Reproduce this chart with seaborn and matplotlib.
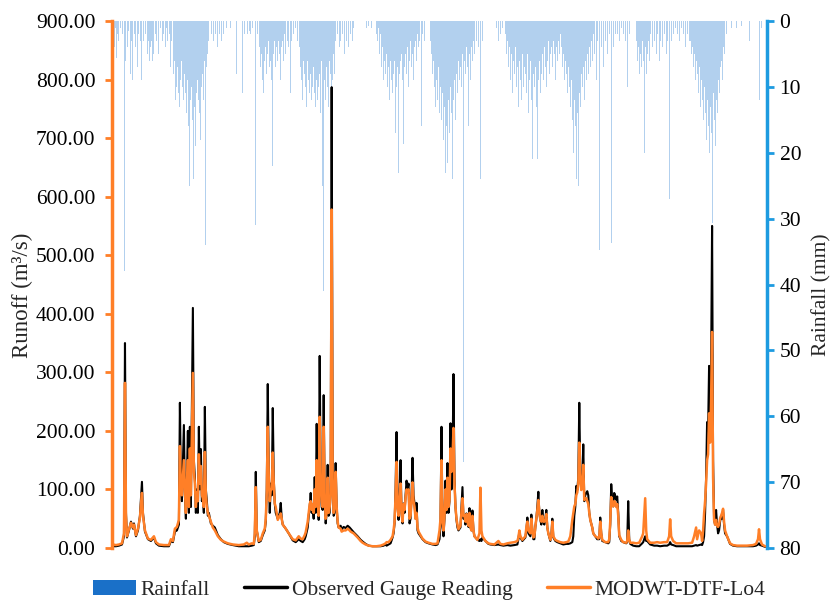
import numpy as np
import pandas as pd
import matplotlib
matplotlib.use("Agg")
import matplotlib.pyplot as plt
import seaborn as sns
from matplotlib.patches import Patch
from matplotlib.lines import Line2D

# ---------------- data (time-step index) ----------------
runoff_step = [0,3,6,9,11,12,13,14,16,18,20,21,23,25,27,28,29,30,32,35,38,41,43,46,51,56,58,60,62,64,66,67,68,69,71,72,73,74,75,76,77,78,80,81,82,83,84,85,86,87,88,89,90,91,92,93,94,95,96,98,100,102,105,108,111,115,120,126,131,134,136,139,141,142,143,144,146,148,150,152,153,154,155,156,157,158,159,160,161,162,163,165,167,168,169,170,173,176,180,183,186,188,190,192,193,195,196,197,198,199,200,201,202,203,204,205,206,207,208,209,210,211,212,213,214,215,216,217,218,219,220,221,222,223,224,225,226,228,229,231,233,235,237,238,241,245,248,250,253,256,260,264,268,271,273,274,276,278,280,281,282,283,284,285,286,287,288,289,290,291,292,293,294,295,296,297,298,299,300,301,302,303,304,305,306,308,310,313,316,320,323,325,327,328,329,330,331,332,333,334,335,336,337,338,339,340,341,342,343,344,345,346,348,350,351,352,353,354,355,356,357,358,359,360,361,362,365,367,368,369,370,373,376,378,382,386,388,391,395,398,402,405,406,407,408,410,413,414,415,416,418,419,420,421,422,423,424,425,426,427,428,429,430,431,432,433,434,435,436,438,439,440,441,443,445,448,451,454,456,458,460,461,462,463,464,465,466,467,468,469,470,471,472,473,474,475,476,477,478,480,481,483,485,486,487,488,489,490,493,496,497,498,499,500,501,502,503,504,505,506,507,509,511,514,515,516,517,518,521,524,527,530,531,533,534,535,538,542,545,548,552,555,557,558,559,561,564,568,572,576,580,582,584,585,587,589,590,591,592,593,594,595,596,597,598,599,600,601,602,603,604,605,606,607,608,609,610,611,612,613,615,618,621,625,630,635,641,644,646,647,648,650,653]

observed = [3,3,4,6,20,350,60,18,30,45,33,42,20,30,55,85,113,60,28,15,12,18,8,4,3,3,12,10,28,30,40,248,110,80,210,90,50,120,200,60,207,70,410,150,120,60,100,60,207,100,169,80,90,60,241,100,80,55,60,42,38,35,22,15,10,7,5,3,3,3,3,4,5,20,130,30,10,12,22,30,45,100,280,130,60,110,90,239,120,76,60,50,60,77,50,40,33,25,13,10,15,12,10,15,20,35,55,70,94,60,70,50,121,60,212,80,48,328,120,70,65,261,90,42,60,142,55,60,100,787,150,55,60,145,70,42,35,38,32,36,34,38,35,33,27,20,14,11,7,4,3,3,3,4,6,4,6,8,18,25,42,100,198,70,48,90,150,60,42,76,60,90,115,100,110,42,50,90,154,90,76,50,77,30,25,20,15,10,8,6,5,6,15,40,207,40,20,50,115,60,145,60,80,213,100,140,297,120,70,48,35,30,35,104,50,55,40,59,45,36,68,35,30,64,30,20,14,12,15,12,18,12,7,6,5,6,5,4,5,4,5,6,15,28,18,12,18,30,52,25,20,57,30,15,15,36,50,71,96,60,48,40,65,45,40,50,65,35,25,12,20,50,18,12,10,8,6,7,7,8,10,20,55,70,106,99,120,248,130,100,110,177,80,90,94,97,90,60,48,35,25,20,15,15,15,52,25,12,10,8,10,40,109,80,71,94,89,82,88,60,20,12,10,8,10,80,15,7,4,3,3,8,10,20,12,12,6,4,4,3,4,4,6,10,6,5,3,3,3,3,3,4,5,4,5,6,5,10,20,60,120,215,200,311,200,300,550,150,48,40,65,40,25,30,45,55,50,65,40,25,20,7,4,3,3,3,3,4,6,8,5,4,2]

simulated = [6,5,6,8,25,282,55,20,32,43,35,40,22,33,52,75,94,55,30,16,14,20,10,6,5,5,15,12,33,36,48,174,100,90,150,100,60,110,150,70,170,90,299,130,110,70,95,80,160,110,140,90,85,70,164,90,70,60,55,45,35,30,20,14,11,8,6,5,6,9,6,8,7,25,104,30,12,14,25,33,50,95,207,120,80,100,100,163,110,76,70,48,55,59,50,40,33,25,15,13,20,16,15,22,27,45,60,75,80,65,75,60,100,70,150,90,55,224,110,80,70,207,90,50,60,120,60,70,90,578,120,60,70,130,70,45,35,33,28,30,30,33,30,28,25,18,12,9,6,4,3,3,4,6,8,10,10,14,20,30,45,90,147,70,55,80,110,60,45,75,65,85,100,95,100,50,55,80,112,80,70,50,60,35,28,22,16,11,9,7,7,8,30,50,150,45,30,55,100,65,120,70,82,170,130,150,205,110,70,50,40,32,38,85,55,55,45,58,45,38,60,35,30,55,30,20,14,25,103,30,20,12,8,7,6,12,7,6,8,9,10,12,18,30,20,14,20,35,45,30,25,50,30,18,20,36,50,65,82,60,48,45,55,45,45,48,58,35,25,14,20,45,20,14,12,10,9,10,11,20,48,60,71,75,90,95,110,180,120,99,105,142,82,85,85,80,75,60,48,35,25,20,18,16,18,45,25,14,10,10,15,45,87,75,71,80,78,70,75,55,22,14,10,9,12,30,14,9,9,8,9,20,25,85,30,15,9,9,10,9,10,10,20,49,20,12,8,8,8,8,9,20,35,15,30,25,12,30,59,80,110,150,160,230,180,250,369,120,48,40,48,38,36,40,50,55,60,67,45,30,20,8,5,4,4,4,5,7,15,32,15,6,3]

rain_step = [1,2,3,4,5,6,8,10,12,13,15,16,18,19,20,22,23,25,26,28,29,31,33,35,36,37,38,39,40,41,43,44,46,48,50,51,53,54,55,57,58,59,
             61,62,63,64,65,66,67,68,69,70,71,72,73,74,75,76,77,78,79,80,81,82,83,84,85,86,87,88,89,90,91,92,93,94,95,96,
             99,101,103,105,107,109,111,114,118,124,130,132,135,137,138,140,143,145,147,148,149,150,151,152,153,154,155,156,157,158,159,160,161,162,163,164,165,166,167,168,169,170,171,172,173,175,176,178,179,181,183,185,187,
             188,189,190,191,192,193,194,195,196,197,198,199,200,201,202,203,204,205,206,207,208,209,210,211,212,213,214,215,216,217,218,219,220,221,222,223,
             225,227,228,230,232,234,236,238,240,241,254,256,259,264,
             265,266,267,268,269,270,271,272,273,274,275,276,277,278,279,280,281,282,283,284,285,286,287,288,289,290,291,292,293,294,295,296,297,298,299,300,301,302,303,304,305,306,307,309,310,312,
             318,319,320,321,322,323,324,325,326,327,328,329,330,331,332,333,334,335,336,337,338,339,340,341,342,343,344,345,346,347,348,349,350,351,352,353,354,355,356,357,358,359,360,361,362,364,366,368,370,
             384,386,388,390,
             393,394,395,396,397,398,399,400,401,402,403,404,405,406,407,408,409,410,411,412,413,414,415,416,417,418,419,420,421,422,423,424,425,426,427,428,429,430,431,432,433,434,435,436,437,438,439,440,441,442,443,444,445,446,447,448,
             449,450,451,452,453,454,455,456,457,458,459,460,461,462,463,464,465,466,467,468,469,470,471,472,473,474,475,476,477,478,479,480,481,482,484,485,487,489,491,493,495,497,499,501,503,
             505,507,509,511,513,515,517,
             524,525,526,527,528,529,530,531,532,533,534,535,536,537,538,540,542,544,545,547,548,550,552,554,555,557,559,561,563,
             565,567,569,571,573,575,577,
             578,579,580,581,582,583,584,585,586,587,588,589,590,591,592,593,594,595,596,597,598,599,600,601,602,603,604,605,606,607,608,609,610,611,612,614,
             619,624,629,637,647,649]

rainfall = [2,4,1,5.6,2,3,1,2,38,6,4,1.5,8,3,9,2,4,7,2,3,9,3,2,5,3,6,4,3,6,5,2,3,5,1,3,2,4,1,3,2,7,3,
            8,6,12,10,7,11,13,9,6,10,12,8,11,14,9,16,25,12,10,15,24,13,19,11,9,12,14,18,10,8,12,6,34,7,5,3,
            2,3,2,4,2,3,2,1,1,8,11,2,2,1.5,2,1,31,2,4,7,5,9,11,6,4,8,5,3,7,6,9,22,5,3,7,4,6,3,5,9,4,3,6,2,5,3,4,11,3,2,1,3,4,
            7,9,12,6,8,10,13,6,9,11,8,12,10,7,11,13,9,12,10,8,14,6,25,41,9,12,7,10,13,6,8,10,9,5,8,3,
            2,4,3,2,5,3,4,2,3,1,1,0.7,1,2,
            3,1,5,2,7,4,9,6,8,5,10,7,12,6,9,11,8,6,17,10,7,23,8,6,5,9,18.6,7,5,8,4,10,6,3,7,5,9,4,3,6,2,4,3,16,2,3,
            3,5,8,6,10,13,9,12,7,14,10,15,11,18,13,23,16,21.6,12,17,10,14,24,12,9,15,8,11,6,9,7,10,5,67,6,8,4,7,16,5,9,4,6,3,5,3,4,24,3,
            1,3,2,1,
            2,5,3,7,4,9,5,11,6,8,4,10,7,13,6,9,12,5,10,7,8,11,5,14,9,6,12,21,8,10,7,13,21,9,6,11,8,5,9,4,7,10,6,3,8,5,4,7,3,5,9,4,6,3,5,2,
            4,7,5,9,6,8,11,7,10,13,9,15,20,12,16,24,14,25,11,13,8,10,7,12,6,9,5,8,4,7,3,6,2,5,9,3,34.7,4,7,3,5,2,33.7,4,2,
            2,3,1,2,3,10,2,
            3,6,4,8,5,7,3,6,20,4,8,5,3,6,2,4,3,5,2,6,3,4,2,5,3,27,3,2,1,
            2,3,1,2,4,2,3,
            3,5,4,7,5,9,6,8,11,7,13,9,12,15,10,14,18,12,16,20,13,17,30.7,11,15,19,12,14,9,11,7,6,9,4,5,2,
            1,1,0.7,3,12,1]

runoff_ticks = [0, 100, 200, 300, 400, 500, 600, 700, 800, 900]
rain_ticks = [0, 10, 20, 30, 40, 50, 60, 70, 80]
legend_labels = ["Rainfall", "Observed Gauge Reading", "MODWT-DTF-Lo4"]

# ---------------- styling ----------------
sns.set_theme(style="white")
plt.rcParams["font.family"] = ["Liberation Serif", "DejaVu Serif"]

ORANGE = "#ff7f27"
BLUE_AX = "#1d9be0"
BAR_BLUE = "#92bde8"
LEG_BLUE = "#1a70c8"
FS = 15.5

fig = plt.figure(figsize=(8.30, 6.03), dpi=100)
ax = fig.add_axes([112/830, 1-548/603, 655/830, 527/603])
ax2 = ax.twinx()

run_df = pd.DataFrame({"step": runoff_step, "observed": observed, "simulated": simulated})
rain_df = pd.DataFrame({"step": rain_step, "rain": rainfall})

# rainfall bars (secondary axis, inverted)
sns.barplot(data=rain_df, x="step", y="rain", native_scale=True, orient="x",
            errorbar=None, color=BAR_BLUE, width=1.0, saturation=1, alpha=0.7,
            linewidth=0, ax=ax2)
ax2.set_ylim(80, 0)
ax2.set_yticks(rain_ticks)
ax2.set_yticklabels([str(v) for v in rain_ticks])

# runoff lines (primary axis, on top)
sns.lineplot(data=run_df, x="step", y="observed", color="black", lw=1.5,
             errorbar=None, ax=ax)
sns.lineplot(data=run_df, x="step", y="simulated", color=ORANGE, lw=1.8,
             errorbar=None, ax=ax)
ax.set_ylim(0, 900)
ax.set_yticks(runoff_ticks)
ax.set_yticklabels([f"{v:.2f}" for v in runoff_ticks])
ax.set_zorder(ax2.get_zorder() + 1)
ax.patch.set_visible(False)

for a in (ax, ax2):
    a.set_xlim(-1, 655)
    a.set_xticks([])
    a.set_xlabel("")
    for s in a.spines.values():
        s.set_visible(False)

ax.spines["left"].set_visible(True)
ax.spines["left"].set_color(ORANGE)
ax.spines["left"].set_linewidth(2.5)
ax2.spines["right"].set_visible(True)
ax2.spines["right"].set_color(BLUE_AX)
ax2.spines["right"].set_linewidth(2.5)

ax.tick_params(axis="y", direction="out", length=5, width=2, color=ORANGE,
               labelsize=FS, labelcolor="black", pad=7, left=True)
ax2.tick_params(axis="y", direction="out", length=5, width=2, color=BLUE_AX,
                labelsize=FS, labelcolor="black", pad=4, right=True)

ax.set_ylabel("Runoff (m³/s)", fontsize=16.5)
ax.yaxis.set_label_coords(-0.121, 0.48)
ax2.set_ylabel("Rainfall (mm)", fontsize=FS, rotation=90)
ax2.yaxis.set_label_coords(1.069, 0.48)

handles = [Patch(facecolor=LEG_BLUE, edgecolor="none"),
           Line2D([], [], color="black", lw=2.5),
           Line2D([], [], color=ORANGE, lw=2.5)]
fig.legend(handles, legend_labels, loc="center", bbox_to_anchor=(0.517, 0.022),
           ncol=3, frameon=False, fontsize=FS, handlelength=2.0,
           handletextpad=0.2, columnspacing=1.6)

fig.savefig("out.png", dpi=100)
